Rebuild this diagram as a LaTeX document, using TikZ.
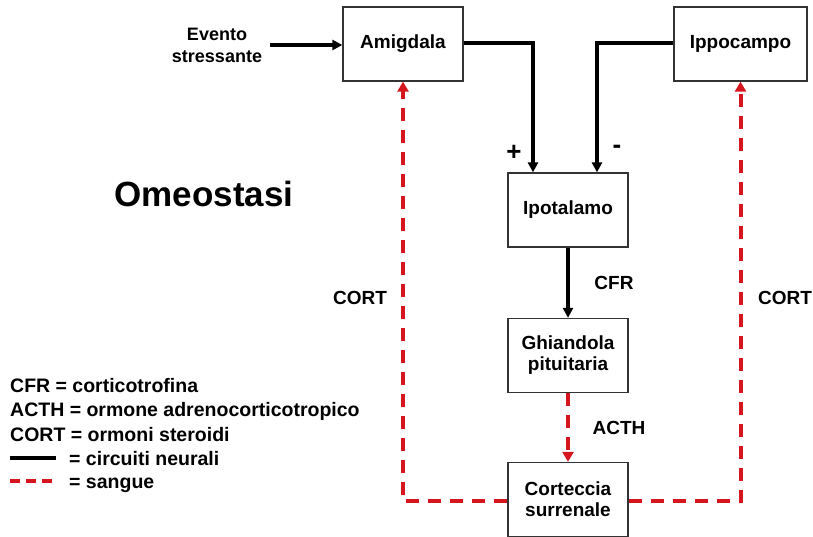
\documentclass[tikz,border=0pt]{standalone}
\usepackage{fontspec}
\setmainfont{Liberation Sans}
\usetikzlibrary{arrows.meta,calc}
\definecolor{bloodred}{RGB}{214,22,30}
\tikzset{
  organ/.style={draw=black!80, line width=1.3pt, fill=white, minimum width=120pt,
    minimum height=74pt, align=center, inner sep=2pt,
    font=\fontsize{19}{23}\selectfont\bfseries},
  lbl/.style={font=\fontsize{19}{23}\selectfont\bfseries, inner sep=0pt},
  legend/.style={font=\fontsize{19.5}{24}\selectfont\bfseries, anchor=base west, inner sep=0pt},
  neural/.style={line width=3.4pt, -{Triangle[length=10pt,width=10pt]}},
  blood/.style={bloodred, line width=4pt, dash pattern=on 13pt off 9pt,
    -{Triangle[length=10pt,width=11pt]}}
}
\begin{document}
\begin{tikzpicture}[x=1pt,y=-1pt]
  \useasboundingbox (0,0) rectangle (813,537);

  % brain and gland boxes
  \node[organ] (amy) at (403,44) {Amigdala};
  \node[organ, minimum width=133pt] (hip) at (740.5,44) {Ippocampo};
  \node[organ] (hyp) at (568,210) {Ipotalamo};
  \node[organ] (pit) at (568,355.5) {Ghiandola\\[-2pt]pituitaria};
  \node[organ] (adr) at (568,499.5) {Corteccia\\[-2pt]surrenale};

  % stressor
  \node[lbl, align=center, font=\fontsize{18}{22}\selectfont\bfseries] (evt) at (217,45) {Evento\\stressante};
  \coordinate (evtout) at (270,45);
  \draw[neural] (evtout) -- (evtout -| amy.west);

  % neural inputs to the hypothalamus
  \coordinate (hypL) at ([xshift=-35pt]hyp.north);
  \coordinate (hypR) at ([xshift=29pt]hyp.north);
  \draw[neural] ([yshift=1pt]amy.east) -| (hypL);
  \draw[neural] ([yshift=1pt]hip.west) -| (hypR);
  \node[lbl, font=\fontsize{26}{26}\selectfont\bfseries] (plus) at (514,153) {+};
  \node[lbl, font=\fontsize{26}{26}\selectfont\bfseries] (minus) at (617,149) {-};

  % hormonal cascade
  \draw[neural] (hyp.south) -- (pit.north);
  \node[lbl] (cfr) at (614,283) {CFR};
  \draw[blood] (pit.south) -- (adr.north);
  \node[lbl] (acth) at (619,428) {ACTH};

  % cortisol feedback
  \draw[blood] ([yshift=-1.5pt]adr.west) -| (amy.south);
  \draw[blood] ([yshift=-1.5pt]adr.east) -| (hip.south);
  \node[lbl] (cortL) at (360,298) {CORT};
  \node[lbl] (cortR) at (785,298) {CORT};

  \node[lbl, font=\fontsize{35}{35}\selectfont\bfseries] (omeo) at (204,194) {Omeostasi};

  % legend
  \node[legend] (l1) at (10,392) {CFR = corticotrofina};
  \node[legend] (l2) at (10,416) {ACTH = ormone adrenocorticotropico};
  \node[legend] (l3) at (10,441) {CORT = ormoni steroidi};
  \coordinate (k1a) at (10,458);
  \coordinate (k1b) at (56,458);
  \draw[line width=3.4pt] (k1a) -- (k1b);
  \node[legend] (l4) at (69,465) {= circuiti neurali};
  \coordinate (k2a) at (10,481);
  \coordinate (k2b) at (56,481);
  \draw[bloodred, line width=4pt, dash pattern=on 10pt off 6pt] (k2a) -- (k2b);
  \node[legend] (l5) at (69,488) {= sangue};
\end{tikzpicture}
\end{document}
